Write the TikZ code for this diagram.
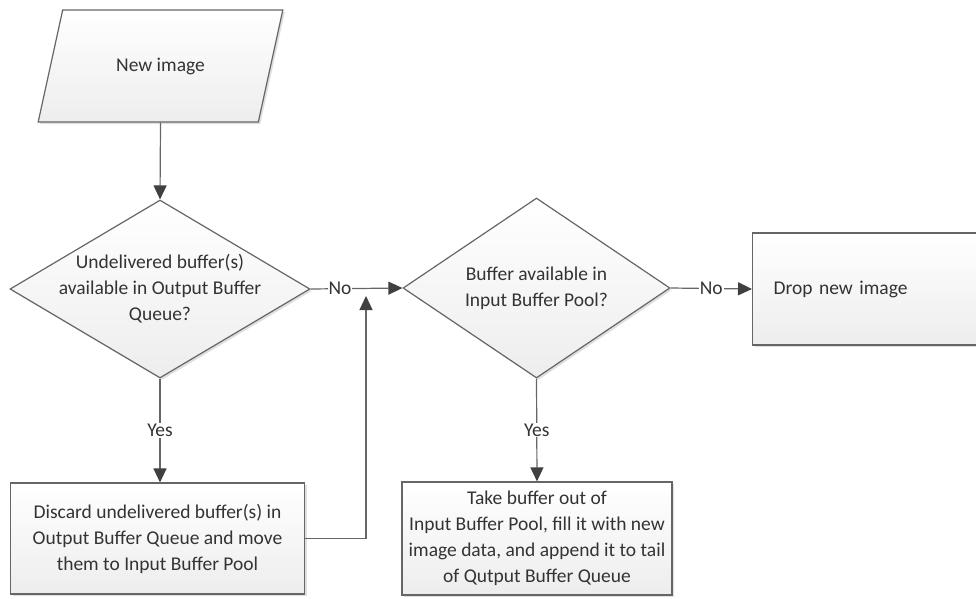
\documentclass[tikz,border=0pt]{standalone}
\usepackage{fontspec}
\setmainfont{Carlito}
\usetikzlibrary{shapes.geometric, arrows.meta, shadows}

\definecolor{linegray}{HTML}{666666}
\definecolor{textgray}{HTML}{333333}
\definecolor{tipgray}{HTML}{404040}

\tikzset{
    shapebase/.style={draw=linegray, line width=1.2pt, top color=white, bottom color=gray!14,
        text=textgray, font=\fontsize{19.5}{26}\selectfont, align=center,
        drop shadow={opacity=0.25, shadow xshift=2pt, shadow yshift=-2pt}},
    inputbox/.style={shapebase, trapezium, trapezium left angle=63, trapezium right angle=117,
        trapezium stretches=true, minimum width=245pt, minimum height=112pt},
    decision/.style={shapebase, diamond, inner sep=-15pt},
    process/.style={shapebase, rectangle, inner xsep=3pt},
    arr/.style={draw=linegray, line width=1.2pt, -{Triangle[length=14pt, width=13pt, color=tipgray]}},
    lbl/.style={fill=white, text=textgray, font=\fontsize{19.5}{26}\selectfont, inner sep=1pt}
}

\begin{document}
\begin{tikzpicture}[x=1pt, y=-1pt]
    % Fix the page to the size of the reference
    \useasboundingbox (0,0) rectangle (976,598);

    % Input and decisions
    \node[inputbox] (newimg) at (160.5,66) {New image};
    \node[decision, shape aspect=1.7, minimum width=300pt, minimum height=178pt] (undeliv) at (160,289)
        {Undelivered buffer(s)\\available in Output Buffer\\Queue?};
    \node[decision, shape aspect=1.48, minimum width=267pt, minimum height=180pt] (avail) at (536.5,288)
        {Buffer available in\\Input Buffer Pool?};

    % Process boxes
    \node[process, minimum width=294pt, minimum height=111pt] (discard) at (157.5,538.5)
        {Discard undelivered buffer(s) in\\Output Buffer Queue and move\\them to Input Buffer Pool};
    \node[process, minimum width=270pt, minimum height=113pt] (take) at (537,538.5)
        {Take buffer out of\\Input Buffer Pool, fill it with new\\image data, and append it to tail\\of Qutput Buffer Queue};
    \node[process, anchor=west, text width=200pt, inner xsep=21pt, minimum height=112pt, align=left] (drop) at (752,289)
        {Drop new image};

    % Connectors
    \draw[arr] (newimg.south) -- (undeliv.north);
    \draw[arr] (undeliv.east) -- node[lbl, pos=0.32] (no1) {No} (avail.west);
    \draw[arr] (avail.east) -- node[lbl] (no2) {No} (drop.west);
    \draw[arr] (undeliv.south) -- node[lbl] (yes1) {Yes} (undeliv.south |- discard.north);
    \draw[arr] (avail.south) -- node[lbl] (yes2) {Yes} (take.north);

    % Loop back from the discard box
    \coordinate (merge) at (366,296);
    \draw[arr] (discard.east) -| (merge);
\end{tikzpicture}
\end{document}
